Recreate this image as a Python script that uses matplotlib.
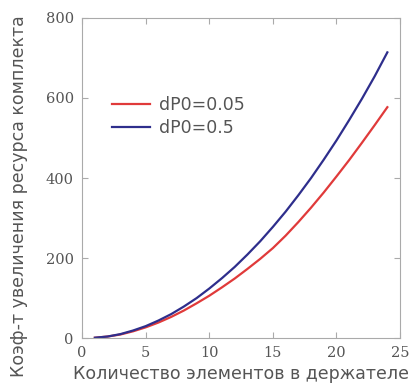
import matplotlib
matplotlib.use("Agg")
import matplotlib.pyplot as plt

n = list(range(1, 25))
blue = [1, 4, 10, 19, 30, 44, 60, 79, 100, 124, 150, 178, 209, 242, 278, 316, 357, 400, 446, 494, 545, 598, 654, 714]
red = [1, 4, 9, 17, 27, 39, 53, 69, 87, 106, 127, 149, 173, 198, 225, 256, 290, 326, 364, 404, 445, 488, 532, 577]
labels = ["dP0=0.05", "dP0=0.5"]
xticks = [0, 5, 10, 15, 20, 25]
yticks = [0, 200, 400, 600, 800]

fig = plt.figure(figsize=(4.15, 3.9), dpi=100)
ax = fig.add_axes([0.198, 0.133, 0.766, 0.821])
ax.plot(n, red, color="#e03a3a", lw=1.6, label=labels[0])
ax.plot(n, blue, color="#2e2e8c", lw=1.6, label=labels[1])
ax.set_xlim(0, 25)
ax.set_ylim(0, 800)
ax.set_xticks(xticks)
ax.set_yticks(yticks)
for lab in ax.get_xticklabels() + ax.get_yticklabels():
    lab.set_family("DejaVu Serif")
    lab.set_fontsize(10.5)
    lab.set_color("#555555")
ax.tick_params(direction="in", top=True, right=True, length=4, color="#aaaaaa", pad=6)
for s in ax.spines.values():
    s.set_color("#aaaaaa")
    s.set_linewidth(0.8)
ax.set_xlabel("Количество элементов в держателе", family="DejaVu Sans", fontsize=12.5, color="#555555", labelpad=3)
ax.set_ylabel("Коэф-т увеличения ресурса комплекта", family="DejaVu Sans", fontsize=12.5, color="#555555")
ax.yaxis.set_label_coords(-0.17, 0.445)
leg = ax.legend(loc="upper left", bbox_to_anchor=(0.045, 0.805), frameon=False,
                prop={"family": "DejaVu Sans", "size": 12.5}, handlelength=2.2,
                labelspacing=0.3, handletextpad=0.5)
for t in leg.get_texts():
    t.set_color("#555555")
fig.savefig("out.png", dpi=100)
